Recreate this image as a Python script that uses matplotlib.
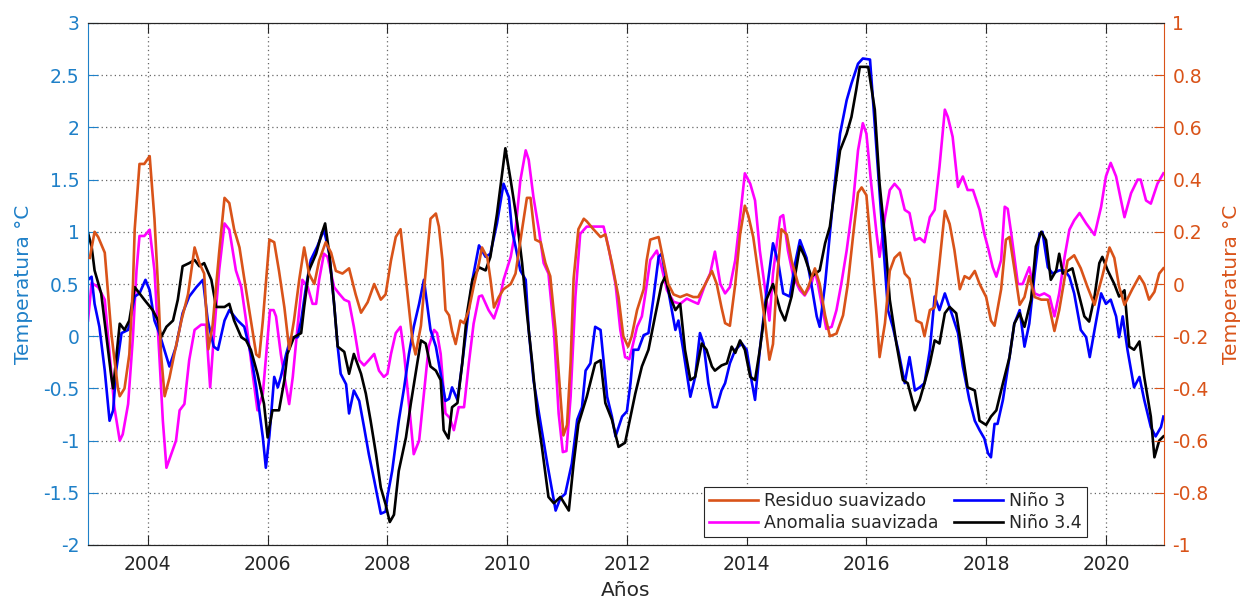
import numpy as np
import matplotlib
matplotlib.use("Agg")
import matplotlib.pyplot as plt
from matplotlib.ticker import FuncFormatter

plt.rcParams["font.family"] = ["DejaVu Sans"]
plt.rcParams["axes.unicode_minus"] = False

# ==========================================
# Datos (años decimales)
# ==========================================
# Residuo suavizado -> eje derecho
t_residuo = [2003.03, 2003.11, 2003.17, 2003.28, 2003.39, 2003.50, 2003.53, 2003.61, 2003.69, 2003.75,
             2003.78, 2003.86, 2003.94, 2004.03, 2004.11, 2004.17, 2004.22, 2004.28, 2004.36, 2004.44,
             2004.56, 2004.67, 2004.78, 2004.86, 2004.94, 2005.01, 2005.08, 2005.19, 2005.28, 2005.36,
             2005.44, 2005.53, 2005.61, 2005.72, 2005.81, 2005.86, 2005.92, 2006.03, 2006.11, 2006.19,
             2006.28, 2006.36, 2006.44, 2006.53, 2006.61, 2006.69, 2006.78, 2006.86, 2006.97, 2007.06,
             2007.14, 2007.25, 2007.36, 2007.47, 2007.56, 2007.67, 2007.78, 2007.89, 2007.97, 2008.06,
             2008.14, 2008.22, 2008.28, 2008.36, 2008.42, 2008.47, 2008.56, 2008.64, 2008.72, 2008.81,
             2008.86, 2008.92, 2008.97, 2009.03, 2009.08, 2009.14, 2009.22, 2009.28, 2009.36, 2009.44,
             2009.53, 2009.58, 2009.67, 2009.72, 2009.78, 2009.86, 2009.94, 2010.06, 2010.14, 2010.25,
             2010.33, 2010.39, 2010.47, 2010.56, 2010.64, 2010.72, 2010.81, 2010.89, 2010.94, 2011.00,
             2011.06, 2011.11, 2011.19, 2011.28, 2011.33, 2011.44, 2011.56, 2011.64, 2011.75, 2011.86,
             2011.94, 2012.02, 2012.08, 2012.17, 2012.28, 2012.33, 2012.39, 2012.53, 2012.61, 2012.69,
             2012.78, 2012.89, 2013.00, 2013.11, 2013.19, 2013.31, 2013.42, 2013.50, 2013.58, 2013.64,
             2013.72, 2013.81, 2013.89, 2013.97, 2014.03, 2014.11, 2014.22, 2014.31, 2014.38, 2014.44,
             2014.50, 2014.58, 2014.67, 2014.75, 2014.86, 2014.97, 2015.03, 2015.14, 2015.22, 2015.31,
             2015.39, 2015.50, 2015.61, 2015.69, 2015.78, 2015.86, 2015.92, 2016.00, 2016.08, 2016.17,
             2016.22, 2016.31, 2016.39, 2016.47, 2016.56, 2016.64, 2016.72, 2016.83, 2016.92, 2016.97,
             2017.06, 2017.14, 2017.22, 2017.31, 2017.39, 2017.47, 2017.56, 2017.64, 2017.72, 2017.81,
             2017.89, 2018.00, 2018.08, 2018.14, 2018.25, 2018.33, 2018.39, 2018.47, 2018.56, 2018.64,
             2018.72, 2018.81, 2018.92, 2019.03, 2019.14, 2019.22, 2019.36, 2019.47, 2019.58, 2019.69,
             2019.81, 2019.94, 2020.06, 2020.14, 2020.22, 2020.31, 2020.44, 2020.56, 2020.64, 2020.72,
             2020.81, 2020.89, 2020.96]
residuo = [0.10, 0.20, 0.18, 0.12, -0.19, -0.40, -0.43, -0.40, -0.27, -0.01,
           0.21, 0.46, 0.46, 0.49, 0.25, -0.01, -0.27, -0.43, -0.36, -0.27,
           -0.14, -0.04, 0.14, 0.08, 0.04, -0.25, -0.16, 0.12, 0.33, 0.31,
           0.21, 0.14, 0.02, -0.14, -0.27, -0.28, -0.14, 0.17, 0.16, 0.05,
           -0.09, -0.25, -0.14, 0.02, 0.14, 0.04, 0.00, 0.09, 0.16, 0.12,
           0.05, 0.04, 0.06, -0.04, -0.11, -0.07, 0.00, -0.06, -0.04, 0.09,
           0.18, 0.21, 0.08, -0.09, -0.22, -0.27, -0.16, 0.05, 0.25, 0.27,
           0.22, 0.09, -0.10, -0.12, -0.18, -0.23, -0.14, -0.15, -0.10, -0.01,
           0.08, 0.14, 0.10, 0.02, -0.09, -0.05, -0.02, 0.00, 0.04, 0.21,
           0.33, 0.33, 0.17, 0.16, 0.08, 0.03, -0.18, -0.43, -0.58, -0.54,
           -0.30, 0.02, 0.21, 0.25, 0.24, 0.21, 0.18, 0.19, 0.08, -0.05,
           -0.20, -0.24, -0.20, -0.10, -0.02, 0.09, 0.17, 0.18, 0.09, 0.00,
           -0.04, -0.05, -0.04, -0.05, -0.05, 0.00, 0.05, 0.00, -0.09, -0.15,
           -0.16, 0.00, 0.19, 0.30, 0.26, 0.18, 0.00, -0.15, -0.29, -0.23,
           0.00, 0.21, 0.19, 0.09, 0.00, -0.04, -0.01, 0.06, 0.00, -0.12,
           -0.20, -0.19, -0.12, 0.00, 0.19, 0.35, 0.37, 0.34, 0.13, -0.12,
           -0.28, -0.15, 0.05, 0.10, 0.12, 0.04, 0.02, -0.14, -0.15, -0.20,
           -0.10, -0.09, 0.08, 0.28, 0.23, 0.13, -0.02, 0.03, 0.02, 0.05,
           0.00, -0.05, -0.14, -0.16, -0.02, 0.17, 0.18, 0.06, -0.08, -0.05,
           0.03, -0.05, -0.06, -0.06, -0.18, -0.10, 0.09, 0.11, 0.06, -0.01,
           -0.08, 0.03, 0.14, 0.10, -0.01, -0.08, -0.02, 0.03, 0.00, -0.06,
           -0.03, 0.04, 0.06]

# Anomalia suavizada -> eje izquierdo
t_anomalia = [2003.00, 2003.06, 2003.17, 2003.28, 2003.36, 2003.44, 2003.53, 2003.58, 2003.67, 2003.75,
              2003.81, 2003.86, 2003.94, 2004.03, 2004.11, 2004.19, 2004.25, 2004.31, 2004.39, 2004.47,
              2004.53, 2004.61, 2004.69, 2004.78, 2004.89, 2004.97, 2005.04, 2005.10, 2005.19, 2005.28,
              2005.36, 2005.47, 2005.56, 2005.64, 2005.75, 2005.83, 2005.92, 2006.04, 2006.10, 2006.14,
              2006.22, 2006.31, 2006.36, 2006.42, 2006.50, 2006.58, 2006.67, 2006.75, 2006.81, 2006.86,
              2006.94, 2007.00, 2007.11, 2007.19, 2007.28, 2007.36, 2007.44, 2007.53, 2007.61, 2007.69,
              2007.78, 2007.86, 2007.94, 2008.00, 2008.06, 2008.14, 2008.22, 2008.28, 2008.36, 2008.44,
              2008.53, 2008.61, 2008.69, 2008.78, 2008.83, 2008.89, 2008.97, 2009.04, 2009.11, 2009.19,
              2009.28, 2009.36, 2009.44, 2009.53, 2009.58, 2009.69, 2009.78, 2009.86, 2009.94, 2010.06,
              2010.14, 2010.22, 2010.31, 2010.36, 2010.44, 2010.53, 2010.61, 2010.69, 2010.78, 2010.86,
              2010.93, 2010.99, 2011.06, 2011.14, 2011.22, 2011.33, 2011.44, 2011.61, 2011.69, 2011.81,
              2011.89, 2011.97, 2012.04, 2012.08, 2012.17, 2012.25, 2012.31, 2012.39, 2012.50, 2012.58,
              2012.67, 2012.78, 2012.89, 2013.00, 2013.11, 2013.19, 2013.31, 2013.39, 2013.47, 2013.56,
              2013.64, 2013.72, 2013.81, 2013.89, 2013.97, 2014.06, 2014.14, 2014.22, 2014.31, 2014.38,
              2014.44, 2014.56, 2014.61, 2014.69, 2014.78, 2014.89, 2014.97, 2015.08, 2015.14, 2015.19,
              2015.28, 2015.33, 2015.42, 2015.50, 2015.58, 2015.67, 2015.78, 2015.86, 2015.94, 2016.00,
              2016.08, 2016.17, 2016.22, 2016.31, 2016.39, 2016.47, 2016.56, 2016.64, 2016.72, 2016.81,
              2016.89, 2016.97, 2017.06, 2017.14, 2017.22, 2017.31, 2017.36, 2017.44, 2017.53, 2017.61,
              2017.69, 2017.78, 2017.89, 2017.97, 2018.03, 2018.11, 2018.17, 2018.25, 2018.31, 2018.36,
              2018.42, 2018.53, 2018.61, 2018.72, 2018.81, 2018.89, 2018.97, 2019.06, 2019.14, 2019.22,
              2019.31, 2019.39, 2019.47, 2019.56, 2019.67, 2019.81, 2019.92, 2020.00, 2020.08, 2020.17,
              2020.31, 2020.42, 2020.53, 2020.58, 2020.67, 2020.75, 2020.86, 2020.96]
anomalia = [0.15, 0.51, 0.47, 0.35, -0.17, -0.68, -1.00, -0.94, -0.65, -0.01,
            0.63, 0.96, 0.96, 1.02, 0.63, -0.17, -0.81, -1.26, -1.13, -1.00,
            -0.71, -0.65, -0.23, 0.06, 0.11, 0.11, -0.49, -0.01, 0.63, 1.08,
            1.02, 0.63, 0.47, 0.15, -0.36, -0.71, -0.55, 0.25, 0.25, 0.19,
            -0.17, -0.49, -0.65, -0.39, 0.09, 0.54, 0.47, 0.31, 0.31, 0.54,
            0.79, 0.76, 0.47, 0.41, 0.35, 0.33, 0.09, -0.23, -0.28, -0.23,
            -0.17, -0.33, -0.39, -0.36, -0.17, 0.03, 0.09, -0.17, -0.65, -1.13,
            -1.00, -0.55, -0.10, 0.06, 0.03, -0.17, -0.74, -0.78, -0.90, -0.68,
            -0.68, -0.26, 0.12, 0.38, 0.39, 0.25, 0.17, 0.31, 0.54, 0.76,
            1.02, 1.49, 1.78, 1.69, 1.33, 1.02, 0.70, 0.60, 0.06, -0.74,
            -1.11, -1.10, -0.58, 0.38, 0.98, 1.05, 1.05, 1.05, 0.86, 0.50,
            0.06, -0.20, -0.22, -0.13, 0.09, 0.19, 0.41, 0.73, 0.82, 0.66,
            0.44, 0.33, 0.31, 0.36, 0.33, 0.31, 0.50, 0.60, 0.81, 0.50,
            0.41, 0.47, 0.73, 1.14, 1.56, 1.46, 1.30, 0.82, 0.44, 0.15,
            0.60, 1.14, 1.16, 0.82, 0.57, 0.44, 0.39, 0.50, 0.63, 0.50,
            0.22, 0.07, 0.09, 0.25, 0.50, 0.82, 1.30, 1.78, 2.04, 1.94,
            1.46, 0.98, 0.76, 1.14, 1.40, 1.46, 1.40, 1.21, 1.18, 0.92,
            0.94, 0.90, 1.14, 1.21, 1.62, 2.17, 2.10, 1.91, 1.43, 1.53,
            1.40, 1.40, 1.21, 0.98, 0.85, 0.66, 0.57, 0.73, 1.24, 1.22,
            0.98, 0.50, 0.50, 0.66, 0.41, 0.39, 0.41, 0.38, 0.19, 0.41,
            0.76, 1.02, 1.11, 1.18, 1.08, 0.97, 1.24, 1.53, 1.66, 1.53,
            1.14, 1.37, 1.50, 1.50, 1.30, 1.27, 1.46, 1.56]

# Niño 3 -> eje izquierdo
t_nino3 = [2003.00, 2003.06, 2003.11, 2003.19, 2003.28, 2003.36, 2003.42, 2003.47, 2003.56, 2003.67,
           2003.78, 2003.86, 2003.96, 2004.03, 2004.11, 2004.19, 2004.36, 2004.47, 2004.58, 2004.69,
           2004.81, 2004.92, 2005.00, 2005.10, 2005.17, 2005.28, 2005.36, 2005.50, 2005.61, 2005.72,
           2005.81, 2005.92, 2005.97, 2006.03, 2006.08, 2006.11, 2006.17, 2006.22, 2006.31, 2006.39,
           2006.50, 2006.56, 2006.64, 2006.72, 2006.83, 2006.94, 2007.03, 2007.11, 2007.17, 2007.22,
           2007.31, 2007.36, 2007.44, 2007.53, 2007.61, 2007.69, 2007.78, 2007.86, 2007.89, 2007.97,
           2008.00, 2008.08, 2008.19, 2008.28, 2008.36, 2008.44, 2008.53, 2008.61, 2008.72, 2008.81,
           2008.89, 2008.97, 2009.03, 2009.08, 2009.17, 2009.25, 2009.33, 2009.42, 2009.53, 2009.64,
           2009.72, 2009.83, 2009.94, 2010.03, 2010.08, 2010.14, 2010.22, 2010.31, 2010.36, 2010.44,
           2010.56, 2010.67, 2010.81, 2010.89, 2010.97, 2011.08, 2011.17, 2011.25, 2011.31, 2011.39,
           2011.47, 2011.56, 2011.67, 2011.75, 2011.81, 2011.92, 2012.00, 2012.06, 2012.11, 2012.19,
           2012.28, 2012.36, 2012.44, 2012.53, 2012.58, 2012.64, 2012.72, 2012.81, 2012.86, 2012.94,
           2013.06, 2013.14, 2013.22, 2013.28, 2013.36, 2013.44, 2013.50, 2013.58, 2013.64, 2013.72,
           2013.81, 2013.92, 2014.00, 2014.08, 2014.14, 2014.22, 2014.33, 2014.44, 2014.53, 2014.61,
           2014.72, 2014.81, 2014.89, 2015.00, 2015.08, 2015.17, 2015.22, 2015.31, 2015.39, 2015.47,
           2015.56, 2015.67, 2015.75, 2015.86, 2015.94, 2016.06, 2016.11, 2016.19, 2016.28, 2016.36,
           2016.44, 2016.53, 2016.64, 2016.72, 2016.81, 2016.89, 2016.97, 2017.06, 2017.14, 2017.22,
           2017.31, 2017.44, 2017.53, 2017.61, 2017.72, 2017.81, 2017.89, 2017.97, 2018.03, 2018.08,
           2018.14, 2018.19, 2018.28, 2018.39, 2018.47, 2018.56, 2018.64, 2018.72, 2018.81, 2018.89,
           2018.94, 2019.03, 2019.11, 2019.22, 2019.31, 2019.39, 2019.47, 2019.58, 2019.67, 2019.73,
           2019.81, 2019.92, 2020.00, 2020.08, 2020.17, 2020.22, 2020.28, 2020.36, 2020.47, 2020.56,
           2020.64, 2020.75, 2020.83, 2020.92, 2020.96]
nino3 = [0.54, 0.57, 0.31, 0.09, -0.33, -0.81, -0.71, -0.33, 0.03, 0.06,
         0.38, 0.41, 0.54, 0.44, 0.15, 0.03, -0.29, -0.10, 0.22, 0.38,
         0.47, 0.54, 0.15, -0.10, -0.13, 0.15, 0.25, 0.15, 0.09, -0.17,
         -0.49, -0.97, -1.26, -0.95, -0.60, -0.39, -0.49, -0.39, -0.17, -0.01,
         -0.01, 0.15, 0.47, 0.73, 0.86, 1.02, 0.79, 0.31, -0.10, -0.36,
         -0.46, -0.74, -0.52, -0.62, -0.87, -1.13, -1.38, -1.61, -1.70, -1.68,
         -1.54, -1.29, -0.81, -0.49, -0.17, 0.09, 0.31, 0.54, 0.06, -0.10,
         -0.36, -0.62, -0.60, -0.49, -0.61, -0.26, 0.12, 0.54, 0.87, 0.76,
         0.79, 1.08, 1.46, 1.33, 1.02, 0.86, 0.63, 0.54, 0.06, -0.42,
         -0.84, -1.22, -1.67, -1.55, -1.51, -1.22, -0.80, -0.68, -0.33, -0.26,
         0.09, 0.06, -0.58, -0.77, -0.96, -0.77, -0.72, -0.45, -0.13, -0.13,
         0.01, 0.03, 0.35, 0.76, 0.79, 0.60, 0.35, 0.06, 0.15, -0.13,
         -0.58, -0.39, 0.03, -0.07, -0.45, -0.68, -0.68, -0.52, -0.45, -0.26,
         -0.13, -0.07, -0.13, -0.42, -0.61, -0.13, 0.41, 0.89, 0.70, 0.41,
         0.38, 0.70, 0.92, 0.75, 0.50, 0.19, 0.09, 0.50, 0.98, 1.46,
         1.94, 2.26, 2.42, 2.61, 2.66, 2.65, 2.26, 1.62, 0.89, 0.25,
         0.09, -0.13, -0.45, -0.20, -0.52, -0.49, -0.45, -0.13, 0.38, 0.25,
         0.41, 0.19, 0.03, -0.29, -0.61, -0.81, -0.90, -0.98, -1.12, -1.16,
         -0.84, -0.84, -0.61, -0.20, 0.12, 0.25, -0.10, 0.12, 0.60, 0.98,
         1.00, 0.66, 0.60, 0.63, 0.63, 0.57, 0.41, 0.06, -0.01, -0.20,
         0.06, 0.41, 0.31, 0.35, 0.19, -0.01, 0.19, -0.13, -0.49, -0.39,
         -0.61, -0.87, -0.96, -0.87, -0.77]

# Niño 3.4 -> eje izquierdo
t_nino34 = [2003.00, 2003.06, 2003.11, 2003.22, 2003.31, 2003.39, 2003.42, 2003.53, 2003.61, 2003.69,
            2003.78, 2003.86, 2003.94, 2004.08, 2004.17, 2004.22, 2004.31, 2004.42, 2004.50, 2004.58,
            2004.69, 2004.78, 2004.86, 2004.94, 2005.06, 2005.14, 2005.28, 2005.36, 2005.44, 2005.56,
            2005.64, 2005.72, 2005.83, 2005.94, 2006.00, 2006.08, 2006.19, 2006.28, 2006.33, 2006.44,
            2006.56, 2006.61, 2006.69, 2006.81, 2006.89, 2006.96, 2007.03, 2007.11, 2007.17, 2007.28,
            2007.36, 2007.44, 2007.56, 2007.64, 2007.72, 2007.81, 2007.89, 2007.97, 2008.04, 2008.11,
            2008.19, 2008.31, 2008.39, 2008.47, 2008.56, 2008.64, 2008.72, 2008.81, 2008.89, 2008.94,
            2009.02, 2009.08, 2009.17, 2009.25, 2009.33, 2009.42, 2009.53, 2009.64, 2009.72, 2009.83,
            2009.97, 2010.06, 2010.17, 2010.25, 2010.33, 2010.42, 2010.50, 2010.58, 2010.69, 2010.78,
            2010.89, 2011.03, 2011.11, 2011.19, 2011.33, 2011.47, 2011.56, 2011.64, 2011.75, 2011.86,
            2011.97, 2012.06, 2012.14, 2012.25, 2012.36, 2012.47, 2012.58, 2012.64, 2012.72, 2012.81,
            2012.89, 2012.97, 2013.06, 2013.14, 2013.25, 2013.33, 2013.42, 2013.47, 2013.58, 2013.67,
            2013.75, 2013.81, 2013.89, 2013.97, 2014.06, 2014.14, 2014.22, 2014.33, 2014.44, 2014.56,
            2014.64, 2014.75, 2014.89, 2014.97, 2015.08, 2015.22, 2015.31, 2015.39, 2015.47, 2015.56,
            2015.67, 2015.75, 2015.83, 2015.89, 2016.03, 2016.14, 2016.22, 2016.31, 2016.39, 2016.50,
            2016.61, 2016.69, 2016.81, 2016.89, 2016.97, 2017.06, 2017.14, 2017.22, 2017.31, 2017.39,
            2017.50, 2017.58, 2017.69, 2017.81, 2017.89, 2018.00, 2018.08, 2018.17, 2018.28, 2018.39,
            2018.47, 2018.56, 2018.64, 2018.75, 2018.83, 2018.92, 2019.00, 2019.08, 2019.17, 2019.22,
            2019.28, 2019.44, 2019.53, 2019.64, 2019.72, 2019.81, 2019.89, 2019.94, 2020.03, 2020.14,
            2020.22, 2020.31, 2020.39, 2020.47, 2020.56, 2020.64, 2020.75, 2020.81, 2020.89, 2020.96]
nino34 = [0.99, 0.86, 0.63, 0.41, -0.01, -0.39, -0.50, 0.12, 0.06, 0.15,
          0.47, 0.41, 0.35, 0.25, 0.15, -0.01, 0.09, 0.15, 0.35, 0.67,
          0.70, 0.73, 0.67, 0.70, 0.54, 0.28, 0.28, 0.31, 0.15, -0.01,
          -0.04, -0.13, -0.36, -0.65, -0.97, -0.71, -0.71, -0.42, -0.17, -0.01,
          0.03, 0.28, 0.63, 0.79, 0.96, 1.08, 0.79, 0.31, -0.10, -0.15,
          -0.36, -0.17, -0.36, -0.55, -0.81, -1.13, -1.45, -1.61, -1.78, -1.71,
          -1.29, -0.97, -0.65, -0.36, -0.04, -0.07, -0.29, -0.33, -0.42, -0.90,
          -0.98, -0.68, -0.64, -0.26, 0.22, 0.54, 0.66, 0.63, 0.76, 1.17,
          1.80, 1.49, 1.08, 0.70, 0.22, -0.26, -0.74, -1.06, -1.54, -1.60,
          -1.54, -1.67, -1.22, -0.84, -0.58, -0.26, -0.23, -0.64, -0.80, -1.06,
          -1.02, -0.77, -0.55, -0.29, -0.13, 0.19, 0.50, 0.57, 0.38, 0.25,
          0.31, -0.13, -0.42, -0.39, -0.07, -0.13, -0.29, -0.33, -0.28, -0.26,
          -0.10, -0.16, -0.04, -0.13, -0.39, -0.42, -0.13, 0.35, 0.50, 0.25,
          0.15, 0.38, 0.86, 0.76, 0.57, 0.63, 0.89, 1.05, 1.40, 1.78,
          1.94, 2.10, 2.36, 2.58, 2.58, 2.17, 1.46, 0.95, 0.35, -0.07,
          -0.42, -0.45, -0.71, -0.61, -0.45, -0.26, -0.04, -0.07, 0.22, 0.28,
          0.22, -0.07, -0.49, -0.52, -0.81, -0.85, -0.77, -0.71, -0.45, -0.20,
          0.12, 0.22, 0.09, 0.35, 0.86, 1.00, 0.92, 0.54, 0.63, 0.79,
          0.60, 0.65, 0.44, 0.19, 0.14, 0.38, 0.70, 0.76, 0.63, 0.50,
          0.38, 0.44, -0.10, -0.13, -0.05, -0.39, -0.77, -1.16, -1.00, -0.96]

anios_ticks = list(range(2004, 2021, 2))
ticks_izq = [-2, -1.5, -1, -0.5, 0, 0.5, 1, 1.5, 2, 2.5, 3]
ticks_der = [-1, -0.8, -0.6, -0.4, -0.2, 0, 0.2, 0.4, 0.6, 0.8, 1]

# ==========================================
# Estilo tipo MATLAB
# ==========================================
AZUL = "#1F80C8"
NARANJA = "#D95319"
GRIS = "#262626"
LW = 1.9

fig = plt.figure(figsize=(12.41, 5.99), dpi=100)
ax = fig.add_axes([88 / 1241, 54 / 599, 1076 / 1241, 522 / 599])
ax2 = ax.twinx()

l_anom, = ax.plot(t_anomalia, anomalia, color="#FF00FF", lw=LW)
l_n3, = ax.plot(t_nino3, nino3, color="#0000FF", lw=LW)
l_n34, = ax.plot(t_nino34, nino34, color="black", lw=LW)
l_res, = ax2.plot(t_residuo, residuo, color=NARANJA, lw=LW)

ax.set_xlim(2003.0, 2020.97)
ax.set_ylim(-2, 3)
ax2.set_ylim(-1, 1)

fmt = FuncFormatter(lambda v, p: f"{round(v, 2) + 0.0:g}")
ax.set_xticks(anios_ticks)
ax.set_yticks(ticks_izq)
ax2.set_yticks(ticks_der)
ax.yaxis.set_major_formatter(fmt)
ax2.yaxis.set_major_formatter(fmt)

ax.tick_params(axis="x", direction="in", length=7.5, width=0.8, top=True,
               colors=GRIS, labelsize=13.5, pad=7)
ax.tick_params(axis="y", direction="in", length=7.5, width=0.8, right=False,
               colors=AZUL, labelsize=13.5, pad=6)
ax2.tick_params(axis="y", direction="in", length=7.5, width=0.8,
                colors=NARANJA, labelsize=13.5, pad=6)

for a in (ax, ax2):
    a.spines["top"].set_color(GRIS)
    a.spines["bottom"].set_color(GRIS)
    for s in a.spines.values():
        s.set_linewidth(0.8)
ax.spines["left"].set_color(AZUL)
ax.spines["right"].set_visible(False)
ax2.spines["left"].set_visible(False)
ax2.spines["right"].set_color(NARANJA)

ax.grid(True, linestyle=(0, (1, 2.5)), color="#404040", linewidth=0.9, alpha=0.8)

ax.set_ylabel("Temperatura °C", color=AZUL, fontsize=14.5)
ax2.set_ylabel("Temperatura °C", color=NARANJA, fontsize=14.5)
ax.set_xlabel("Años", color=GRIS, fontsize=14.5)
ax.yaxis.set_label_coords(-0.051, 0.5)
ax2.yaxis.set_label_coords(1.054, 0.5)
ax.xaxis.set_label_coords(0.5, -0.069)

leg = ax2.legend([l_res, l_anom, l_n3, l_n34],
                 ["Residuo suavizado", "Anomalia suavizada", "Niño 3", "Niño 3.4"],
                 ncol=2, loc="lower left", bbox_to_anchor=(0.5725, 0.0153),
                 fontsize=12.5, frameon=True, fancybox=False, framealpha=1,
                 edgecolor=GRIS, handlelength=2.8, handletextpad=0.35,
                 columnspacing=0.9, labelspacing=0.2, borderpad=0.3, borderaxespad=0)
leg.get_frame().set_linewidth(0.8)
for txt in leg.get_texts():
    txt.set_color(GRIS)

fig.savefig("out.png", dpi=100)
